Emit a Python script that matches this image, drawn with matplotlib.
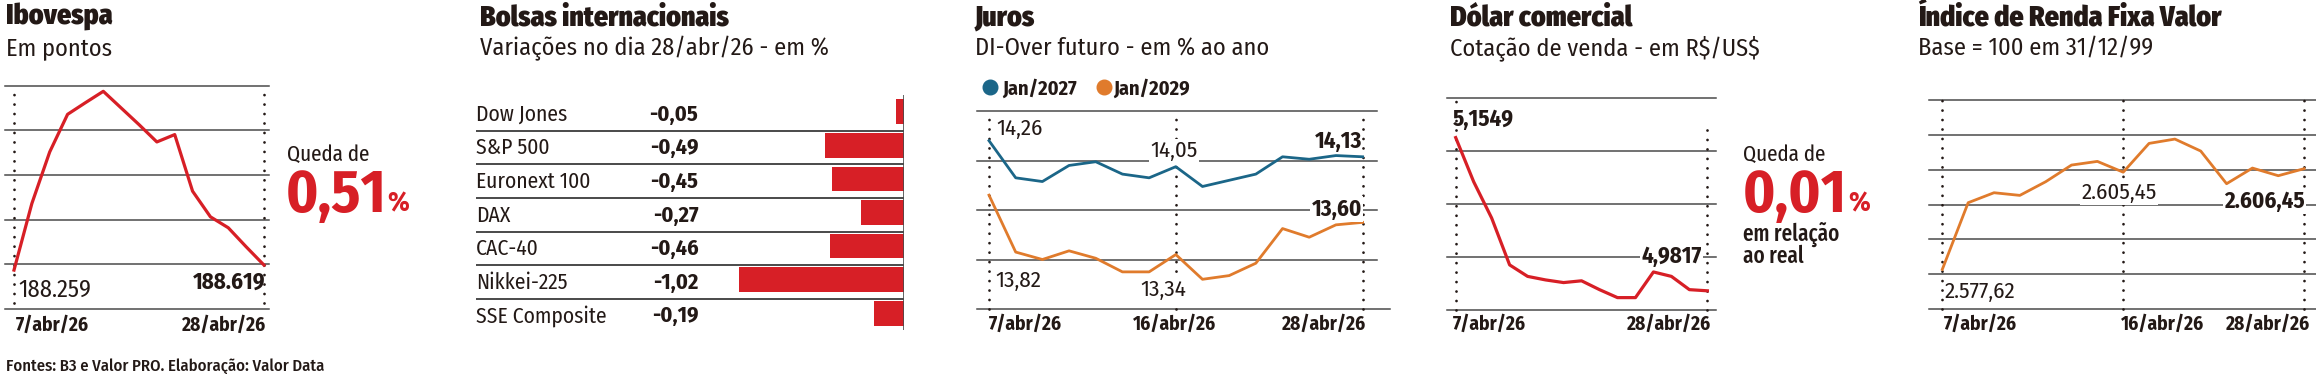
import matplotlib
matplotlib.use('Agg')
import matplotlib.pyplot as plt

# ---------------- data ----------------
days_idx = list(range(15))  # trading days 7/abr/26 .. 28/abr/26

ibov = [188259, 193060, 196780, 199490, 200330, 201150, 199950, 198750,
        197500, 198030, 193950, 192100, 191310, 189940, 188619]

bolsas_names = ["Dow Jones", "S&P 500", "Euronext 100", "DAX", "CAC-40",
                "Nikkei-225", "SSE Composite"]
bolsas_vals = [-0.05, -0.49, -0.45, -0.27, -0.46, -1.02, -0.19]

juros_2027 = [14.26, 13.96, 13.93, 14.06, 14.09, 13.99, 13.96, 14.05,
              13.89, 13.94, 13.99, 14.13, 14.11, 14.14, 14.13]
juros_2029 = [13.82, 13.36, 13.30, 13.37, 13.31, 13.20, 13.20, 13.34,
              13.14, 13.17, 13.27, 13.55, 13.48, 13.58, 13.60]

dolar = [5.1549, 5.105, 5.064, 5.011, 4.998, 4.994, 4.991, 4.993,
         4.983, 4.974, 4.974, 5.003, 4.998, 4.983, 4.9817]

irf = [2577.62, 2596.71, 2599.57, 2598.81, 2602.72, 2607.49, 2608.54,
       2605.45, 2613.69, 2614.93, 2611.50, 2602.15, 2606.63, 2604.44, 2606.45]

date_labels = ["7/abr/26", "16/abr/26", "28/abr/26"]

# ---------------- style ----------------
W, H = 2316, 374
TXT = '#231916'
RED = '#d71f26'
BLUE = '#1b6688'
ORANGE = '#e07b2c'
GRID = '#4a4a4a'
FAM = ['Fira Sans Condensed', 'DejaVu Sans']
FAMX = ['Fira Sans Extra Condensed', 'Fira Sans Condensed', 'DejaVu Sans']

fig = plt.figure(figsize=(W / 100, H / 100), dpi=100)
fig.patch.set_facecolor('white')


def ax_at(x0, y0, x1, y1):
    ax = fig.add_axes([x0 / W, 1 - y1 / H, (x1 - x0) / W, (y1 - y0) / H])
    ax.set_axis_off()
    return ax


def dotted(ax, x, y0=None, y1=None):
    lo, hi = ax.get_ylim()
    ax.plot([x, x], [lo if y0 is None else y0, hi if y1 is None else y1],
            color=TXT, lw=2.0, linestyle=(0, (0.01, 3.4)),
            dash_capstyle='round', zorder=1, clip_on=False)


def grids(ax, levels, x0=None, x1=None):
    a, b = ax.get_xlim()
    for g in levels:
        ax.plot([a if x0 is None else x0, b if x1 is None else x1], [g, g],
                color=GRID, lw=1.1, zorder=0, clip_on=False)


over = fig.add_axes([0, 0, 1, 1], zorder=10)
over.set_xlim(0, W)
over.set_ylim(H, 0)
over.set_axis_off()
over.patch.set_alpha(0)


def T(x, y, s, size=15, weight='normal', color=TXT, ha='left', bbox=False,
      family=FAM, **kw):
    t = over.text(x, y, s, fontsize=size, fontweight=weight, color=color,
                  ha=ha, va='baseline', family=family, **kw)
    if bbox:
        t.set_bbox(dict(facecolor='white', edgecolor='none', pad=1.0))
    return t


def right_px(t):
    fig.canvas.draw()
    bb = t.get_window_extent(renderer=fig.canvas.get_renderer())
    return over.transData.inverted().transform((bb.x1, bb.y0))[0]


def title(x, s, sub):
    T(x, 25, s, size=20, weight='black')
    T(x, 55, sub, size=17.5, weight='normal')


def big_pct(x, y, s):
    t = T(x, y, s, size=43, weight='bold', color=RED)
    T(right_px(t) + 1, y, "%", size=20, weight='bold', color=RED)


# ---------------- Panel 1: Ibovespa ----------------
title(6, "Ibovespa", "Em pontos")
ax1 = ax_at(5, 85.7, 269, 308.7)
step1 = 3216
base1 = 185475
ax1.set_ylim(base1, base1 + 5 * step1)
ax1.set_xlim(-0.504, 14.28)
grids(ax1, [base1 + k * step1 for k in range(6)])
dotted(ax1, 0, base1 + 0.12 * step1, base1 + 4.95 * step1)
dotted(ax1, 14, base1 + 0.12 * step1, base1 + 4.95 * step1)
ax1.plot(days_idx, ibov, color=RED, lw=2.3, zorder=3)
T(18, 296.5, f"{ibov[0]:,}".replace(',', '.'), size=17.5)
T(265.5, 288.3, f"{ibov[-1]:,}".replace(',', '.'), size=16.5, weight='bold', ha='right')
T(15.5, 331, date_labels[0], size=14, weight='bold')
T(266.5, 331, date_labels[2], size=14, weight='bold', ha='right')
T(287, 160.5, "Queda de", size=16.5, weight='normal', family=FAMX)
big_pct(286, 211.7, "0,51")
T(6, 371, "Fontes: B3 e Valor PRO. Elaboração: Valor Data", size=12, weight='medium')

# ---------------- Panel 2: Bolsas ----------------
title(480, "Bolsas internacionais", "Variações no dia 28/abr/26 - em %")
px_per_unit = 161.7
bx0, bx1 = 475.7, 904.3
row0, rowh = 111.7, 33.6
by0, by1 = 95, 330
ax2 = ax_at(bx0, by0, bx1, by1)
ax2.set_xlim(-(bx1 - bx0) / px_per_unit, 0)
ax2.set_ylim((by1 - row0) / rowh, (by0 - row0) / rowh)
ax2.barh(range(len(bolsas_vals)), bolsas_vals, height=24.5 / rowh, color=RED,
         zorder=2)
for i in range(len(bolsas_vals) - 1):
    ax2.axhline(i + 19.0 / rowh, color=GRID, lw=1.4, zorder=1)
ax2.axvline(0, color=GRID, lw=1.2, zorder=3)
for i, (n, v) in enumerate(zip(bolsas_names, bolsas_vals)):
    yb = row0 + i * rowh + 9.0
    T(bx0, yb, n, size=15.5)
    T(698.3, yb, f"{v:.2f}".replace('.', ','), size=16, weight='bold', ha='right')

# ---------------- Panel 3: Juros ----------------
title(975, "Juros", "DI-Over futuro - em % ao ano")
over.plot([990], [87.3], 'o', ms=10.5, color=BLUE)
T(1002.5, 95, "Jan/2027", size=14.6, weight='bold')
over.plot([1104], [87.3], 'o', ms=10.5, color=ORANGE)
T(1113.5, 95, "Jan/2029", size=14.6, weight='bold')
ax3 = ax_at(977, 111, 1377, 309)
ax3.set_xlim(-0.45, 14.54)
ax3.set_ylim(12.9, 14.5)
grids(ax3, [13.3, 13.7, 14.1, 14.5])
ax3.plot([-0.45, 15.03], [12.9, 12.9], color=GRID, lw=1.1, zorder=0, clip_on=False)
for xi in (0, 7, 14):
    dotted(ax3, xi)
ax3.plot(days_idx, juros_2027, color=BLUE, lw=2.0, zorder=3)
ax3.plot(days_idx, juros_2029, color=ORANGE, lw=2.0, zorder=3)
fmt = lambda v: f"{v:.2f}".replace('.', ',')
T(996.5, 135, fmt(juros_2027[0]), size=16.5)
T(1150, 157, fmt(juros_2027[7]), size=16.5, bbox=True)
T(1362, 148, fmt(juros_2027[-1]), size=16.5, weight='bold', ha='right')
T(995, 287, fmt(juros_2029[0]), size=16.5)
T(1140, 296, fmt(juros_2029[7]), size=16.5, bbox=True)
T(1362, 216, fmt(juros_2029[-1]), size=16.5, weight='bold', ha='right', bbox=True)
T(989, 330, date_labels[0], size=14, weight='bold')
T(1175, 330, date_labels[1], size=14, weight='bold', ha='center')
T(1366, 330, date_labels[2], size=14, weight='bold', ha='right')

# ---------------- Panel 4: Dolar ----------------
title(1450, "Dólar comercial", r"Cotação de venda - em R\$/US\$")
ax4 = ax_at(1446.7, 97.7, 1716, 310)
ax4.set_xlim(-0.50, 14.48)
ax4.set_ylim(4.96, 5.20)
grids(ax4, [4.96, 5.02, 5.08, 5.14, 5.20])
dotted(ax4, 0)
dotted(ax4, 14, 4.96, 5.165)
ax4.plot(days_idx, dolar, color=RED, lw=2.3, zorder=3)
T(1453, 126, f"{dolar[0]:.4f}".replace('.', ','), size=16.5, weight='bold')
T(1701.5, 263, f"{dolar[-1]:.4f}".replace('.', ','), size=16.5, weight='bold',
  ha='right', bbox=True)
T(1453, 330, date_labels[0], size=14, weight='bold')
T(1711.5, 330, date_labels[2], size=14, weight='bold', ha='right')
T(1743.3, 160.5, "Queda de", size=16.5, weight='normal', family=FAMX)
big_pct(1743, 211.7, "0,01")
T(1743.3, 240.5, "em relação", size=16.5, weight='medium', family=FAMX)
T(1743.3, 263, "ao real", size=16.5, weight='medium', family=FAMX)

# ---------------- Panel 5: IRF ----------------
title(1918, "Índice de Renda Fixa Valor", "Base = 100 em 31/12/99")
ax5 = ax_at(1929, 99.7, 2316, 309.3)
ax5.set_xlim(-0.515, 14.46)
base5 = 2566.2
ax5.set_ylim(base5, base5 + 60)
grids(ax5, [base5 + 10 * k for k in range(7)])
for xi in (0, 7, 14):
    dotted(ax5, xi)
ax5.plot(days_idx, irf, color=ORANGE, lw=2.0, zorder=3)
fmt2 = lambda v: f"{v:,.2f}".replace(',', 'X').replace('.', ',').replace('X', '.')
T(1945, 298, fmt2(irf[0]), size=16.5)
T(2081.7, 199, fmt2(irf[7]), size=16.5, bbox=True)
T(2224.3, 208, fmt2(irf[-1]), size=16.5, weight='bold', bbox=True)
T(1944, 330, date_labels[0], size=14, weight='bold')
T(2120.7, 330, date_labels[1], size=14, weight='bold')
T(2310.7, 330, date_labels[2], size=14, weight='bold', ha='right')

fig.savefig('out.png', dpi=100, facecolor='white')
